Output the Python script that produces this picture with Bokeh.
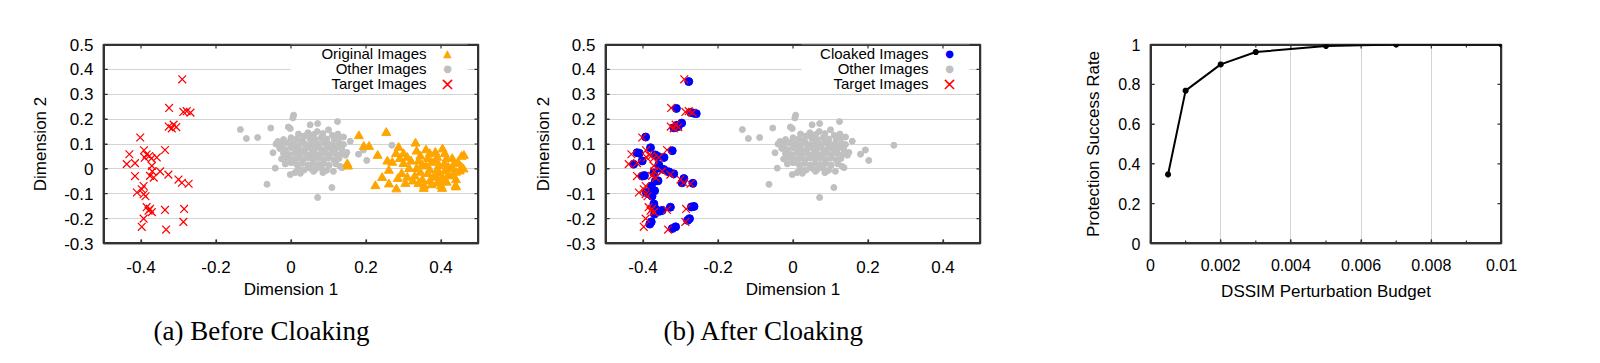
from bokeh.plotting import figure
from bokeh.layouts import row
from bokeh.models import (FixedTicker, CustomJSTickFormatter, Label,
                          BoxAnnotation, Title, Range1d)
from bokeh.embed import file_html
from bokeh.resources import INLINE

# ---------------- data ----------------
# Target images (shared by both panels)
target_x = [-0.290, -0.325, -0.287, -0.278, -0.268, -0.326, -0.313, -0.306, -0.318,
            -0.402, -0.431, -0.392, -0.385, -0.378, -0.390, -0.372, -0.336, -0.358,
            -0.438, -0.416, -0.371, -0.416, -0.370, -0.376, -0.366, -0.349, -0.327,
            -0.300, -0.291, -0.273, -0.393, -0.398, -0.411, -0.393, -0.388, -0.385,
            -0.376, -0.371, -0.380, -0.336, -0.285, -0.393, -0.398, -0.287, -0.333]
target_y = [0.360, 0.245, 0.229, 0.232, 0.226, 0.170, 0.178, 0.168, 0.163,
            0.126, 0.059, 0.075, 0.058, 0.052, 0.045, 0.042, 0.076, 0.046,
            0.019, 0.023, 0.012, -0.029, -0.010, -0.028, -0.035, -0.010, -0.023,
            -0.043, -0.056, -0.060, -0.069, -0.082, -0.095, -0.102, -0.110, -0.154,
            -0.161, -0.174, -0.168, -0.165, -0.161, -0.200, -0.233, -0.213, -0.244]

# Other images (shared)
other_x = [0.007, 0.005, -0.135, -0.119, -0.089, -0.054, 0.051, 0.071, 0.124, 0.100,
           -0.007, -0.002, -0.048, -0.042, -0.064, 0.109, 0.071, 0.113, 0.131, 0.136,
           0.180, 0.193, 0.202, 0.269, 0.158, 0.140, 0.149, -0.002, 0.011, 0.060,
           0.020, 0.045, 0.060, 0.085, 0.110, 0.125, 0.035, 0.070,
           -0.020, 0.000, 0.015, 0.030, 0.050, 0.065, 0.080, 0.095, 0.115, 0.130, -0.035,
           -0.040, -0.025, -0.010, 0.005, 0.020, 0.035, 0.048, 0.060, 0.075, 0.088, 0.100,
           0.112, 0.128, 0.140,
           -0.030, -0.015, 0.000, 0.012, 0.025, 0.040, 0.055, 0.068, 0.082, 0.095, 0.108,
           0.120, 0.135,
           -0.020, -0.005, 0.010, 0.022, 0.037, 0.050, 0.063, 0.077, 0.090, 0.103, 0.118,
           0.132, 0.145,
           -0.025, -0.010, 0.005, 0.018, 0.032, 0.046, 0.058, 0.072, 0.086, 0.100, 0.115,
           0.128,
           -0.015, 0.000, 0.015, 0.030, 0.045, 0.060, 0.074, 0.088, 0.102, 0.120,
           0.020, 0.035, 0.050, 0.065, 0.080, 0.095, 0.025, 0.085]
other_y = [0.216, 0.205, 0.158, 0.122, 0.126, 0.164, 0.177, 0.182, 0.190, 0.157,
           0.168, 0.162, 0.065, 0.003, -0.062, -0.075, -0.115, -0.010, 0.010, 0.005,
           0.059, 0.076, 0.034, 0.095, 0.111, 0.128, 0.066, -0.023, -0.015, -0.010,
           0.140, 0.145, 0.138, 0.142, 0.135, 0.140, 0.132, 0.150,
           0.118, 0.125, 0.120, 0.115, 0.122, 0.118, 0.125, 0.120, 0.118, 0.125, 0.110,
           0.100, 0.098, 0.105, 0.100, 0.095, 0.102, 0.097, 0.104, 0.098, 0.105, 0.100,
           0.095, 0.102, 0.098,
           0.082, 0.078, 0.085, 0.080, 0.076, 0.083, 0.079, 0.085, 0.077, 0.083, 0.078,
           0.084, 0.079,
           0.062, 0.058, 0.064, 0.057, 0.063, 0.056, 0.062, 0.058, 0.064, 0.057, 0.062,
           0.058, 0.055,
           0.040, 0.045, 0.038, 0.043, 0.037, 0.044, 0.039, 0.045, 0.038, 0.043, 0.036,
           0.042,
           0.020, 0.025, 0.018, 0.022, 0.016, 0.023, 0.018, 0.022, 0.015, 0.020,
           0.000, -0.005, 0.003, -0.002, 0.004, -0.006, -0.018, -0.015]

# Original images (panel a)
orig_x = [0.181, 0.254, 0.194, 0.208, 0.231, 0.257, 0.150, 0.152, 0.261, 0.243, 0.225,
          0.261, 0.281, 0.287, 0.332, 0.461, 0.439, 0.403, 0.354, 0.404, 0.455, 0.440,
          0.300, 0.310, 0.320, 0.300, 0.315, 0.295, 0.310, 0.325, 0.305,
          0.335, 0.345, 0.340, 0.350, 0.335, 0.345, 0.330, 0.350, 0.340, 0.355,
          0.360, 0.370, 0.365, 0.375, 0.360, 0.370, 0.365, 0.380, 0.370, 0.375,
          0.385, 0.390, 0.385, 0.395, 0.390, 0.395, 0.385, 0.400, 0.390, 0.400,
          0.410, 0.415, 0.410, 0.420, 0.410, 0.420, 0.405, 0.415,
          0.430, 0.435, 0.430, 0.440, 0.430, 0.440, 0.445, 0.455, 0.450, 0.460,
          0.280, 0.290, 0.285, 0.270]
orig_y = [0.132, 0.145, 0.089, 0.089, 0.053, 0.030, 0.019, 0.010, -0.007, -0.036, -0.069,
          -0.062, -0.082, 0.085, 0.102, 0.053, -0.069, -0.080, -0.080, 0.079, 0.049, -0.074,
          0.060, 0.045, 0.030, 0.020, 0.000, -0.020, -0.035, -0.050, -0.060,
          0.070, 0.050, 0.030, 0.015, 0.000, -0.015, -0.030, -0.045, -0.060, -0.070,
          0.075, 0.060, 0.040, 0.025, 0.010, -0.005, -0.020, -0.035, -0.050, -0.065,
          0.065, 0.045, 0.030, 0.012, -0.003, -0.018, -0.030, -0.045, -0.058, -0.070,
          0.060, 0.040, 0.020, 0.005, -0.010, -0.025, -0.040, -0.055,
          0.040, 0.020, 0.000, -0.015, -0.030, -0.045, 0.025, 0.005, -0.010, -0.002,
          0.060, 0.040, -0.040, 0.025]

# Cloaked images (panel b)
cloak_x = [-0.278, -0.311, -0.273, -0.265, -0.258, -0.297, -0.306, -0.318, -0.310,
           -0.393, -0.380, -0.322, -0.416, -0.410, -0.367, -0.360, -0.344, -0.402,
           -0.425, -0.358, -0.355, -0.344, -0.331, -0.318, -0.402, -0.396, -0.371,
           -0.367, -0.360, -0.291, -0.296, -0.267, -0.378, -0.369, -0.382, -0.391,
           -0.376, -0.371, -0.367, -0.349, -0.327, -0.369, -0.355, -0.264, -0.271,
           -0.276, -0.281, -0.313, -0.322, -0.378, -0.382]
cloak_y = [0.351, 0.243, 0.227, 0.224, 0.222, 0.184, 0.170, 0.165, 0.175,
           0.128, 0.085, 0.073, 0.065, 0.063, 0.056, 0.050, 0.046, 0.032,
           0.019, 0.016, 0.003, -0.003, -0.012, -0.020, -0.029, -0.027, -0.016,
           -0.049, -0.048, -0.039, -0.056, -0.058, -0.069, -0.088, -0.102, -0.095,
           -0.110, -0.141, -0.161, -0.167, -0.154, -0.181, -0.170, -0.151, -0.153,
           -0.200, -0.207, -0.233, -0.240, -0.213, -0.222]

# Panel c
budget = [0.0005, 0.001, 0.002, 0.003, 0.005, 0.007, 0.01]
success = [0.347, 0.768, 0.900, 0.962, 0.993, 1.000, 1.000]

scatter_xticks = [-0.4, -0.2, 0, 0.2, 0.4]
scatter_yticks = [-0.3, -0.2, -0.1, 0, 0.1, 0.2, 0.3, 0.4, 0.5]
c_xticks = [0, 0.002, 0.004, 0.006, 0.008, 0.01]
c_minor_xticks = [0.001, 0.003, 0.005, 0.007, 0.009]
c_yticks = [0, 0.2, 0.4, 0.6, 0.8, 1]

SANS = "Liberation Sans"
SERIF = "Liberation Serif"
fmt_code = "return (Math.round(tick*1e6)/1e6).toString();"
GRID = "#a8a8a8"
FRAME = "#333333"


def style(p, xt, yt, xlabel, ylabel, tick_size, hgrid=True, vgrid=False, ylab_standoff=9):
    p.outline_line_color = FRAME
    p.outline_line_width = 1.5
    p.background_fill_color = "white"
    p.border_fill_color = "white"
    for ax, ticks in ((p.xaxis[0], xt), (p.yaxis[0], yt)):
        ax.ticker = FixedTicker(ticks=ticks)
        ax.formatter = CustomJSTickFormatter(code=fmt_code)
        ax.major_label_text_font = SANS
        ax.major_label_text_font_size = tick_size
        ax.major_label_text_color = "black"
        ax.axis_label_text_font = SANS
        ax.axis_label_text_font_size = "17px"
        ax.axis_label_text_font_style = "normal"
        ax.axis_label_text_color = "black"
        ax.major_tick_in = 4
        ax.major_tick_out = 0
        ax.minor_tick_line_color = None
        ax.axis_line_color = FRAME
        ax.axis_line_width = 1.5
        ax.major_tick_line_color = FRAME
        ax.major_tick_line_width = 1.2
    p.xaxis[0].axis_label = xlabel
    p.yaxis[0].axis_label = ylabel
    p.xaxis[0].major_label_standoff = 17
    p.yaxis[0].major_label_standoff = 10
    p.xaxis[0].axis_label_standoff = 4
    p.yaxis[0].axis_label_standoff = ylab_standoff
    p.xgrid.visible = vgrid
    p.ygrid.visible = hgrid
    p.xgrid[0].ticker = FixedTicker(ticks=xt)
    p.ygrid[0].ticker = FixedTicker(ticks=yt)
    for g in (p.xgrid[0], p.ygrid[0]):
        g.grid_line_color = GRID
        g.grid_line_dash = "1 1"
        g.grid_line_width = 1
    # frame border drawn as a glyph spanning the full ranges
    xr, yr = p.x_range, p.y_range
    p.quad(left=[xr.start], right=[xr.end], bottom=[yr.start], top=[yr.end],
           fill_alpha=0.0, line_color=FRAME, line_width=3)


def inward_ticks(p, xt, yt, fw, fh, length=4):
    """Mirrored inward ticks on all four sides of the frame."""
    xr, yr = p.x_range, p.y_range
    dy = length * (yr.end - yr.start) / fh
    dx = length * (xr.end - xr.start) / fw
    if xt:
        n = len(xt)
        p.segment(x0=list(xt) * 2, x1=list(xt) * 2,
                  y0=[yr.start] * n + [yr.end] * n,
                  y1=[yr.start + dy] * n + [yr.end - dy] * n,
                  line_color=FRAME, line_width=1.2)
    if yt:
        m = len(yt)
        p.segment(y0=list(yt) * 2, y1=list(yt) * 2,
                  x0=[xr.start] * m + [xr.end] * m,
                  x1=[xr.start + dx] * m + [xr.end - dx] * m,
                  line_color=FRAME, line_width=1.2)


def legend(p, fw, fh, entries, box_left):
    p.add_layout(BoxAnnotation(left=box_left, right=fw - 11, top=fh - 2, bottom=fh - 52,
                               left_units="screen", right_units="screen",
                               top_units="screen", bottom_units="screen",
                               fill_color="white", fill_alpha=1.0, line_color=None,
                               level="underlay"))
    for i, (label, sym, col, sz) in enumerate(entries):
        yy = fh - 13 - 15 * i
        p.add_layout(Label(x=fw - 52, y=yy, x_units="screen", y_units="screen",
                           text=label, text_align="right", text_baseline="middle",
                           text_font=SANS, text_font_size="15px", text_color="black"))
        p.add_layout(Label(x=fw - 31, y=yy, x_units="screen", y_units="screen",
                           text=sym, text_align="center", text_baseline="middle",
                           text_font="DejaVu Sans", text_font_size=sz, text_color=col))


def caption(p, text, offset):
    p.add_layout(Title(text=text, align="left", offset=offset,
                       text_font=SERIF, text_font_size="27px",
                       text_font_style="normal", text_color="black",
                       standoff=25), "below")


H = 363

# ---------------- panel a ----------------
FW, FH = 375, 203
pa = figure(width=505, height=H, x_range=Range1d(-0.5, 0.5), y_range=Range1d(-0.3, 0.5),
            output_backend="svg", toolbar_location=None,
            min_border_left=103, min_border_right=27, min_border_top=44, min_border_bottom=116)
style(pa, scatter_xticks, scatter_yticks, "Dimension 1", "Dimension 2", "17px",
      ylab_standoff=11)
inward_ticks(pa, scatter_xticks, scatter_yticks, FW, FH)
pa.scatter(other_x, other_y, marker="circle", size=6, fill_color="#c0c0c0",
           line_color="#c0c0c0")
pa.scatter(orig_x, orig_y, marker="triangle", size=9, fill_color="#ffa500",
           line_color="#ffa500")
pa.scatter(target_x, target_y, marker="x", size=11, line_color="#ff0000", line_width=1.2)
legend(pa, FW, FH, [("Original Images", "\u25B2", "#ffa500", "11px"),
                    ("Other Images", "\u25CF", "#c0c0c0", "10px"),
                    ("Target Images", "\u00D7", "#ff0000", "18px")], 187)
caption(pa, "(a) Before Cloaking", 50)

# ---------------- panel b ----------------
pb = figure(width=535, height=H, x_range=Range1d(-0.5, 0.5), y_range=Range1d(-0.3, 0.5),
            output_backend="svg", toolbar_location=None,
            min_border_left=100, min_border_right=60, min_border_top=44, min_border_bottom=116)
style(pb, scatter_xticks, scatter_yticks, "Dimension 1", "Dimension 2", "17px",
      ylab_standoff=10)
inward_ticks(pb, scatter_xticks, scatter_yticks, FW, FH)
pb.scatter(other_x, other_y, marker="circle", size=6, fill_color="#c0c0c0",
           line_color="#c0c0c0")
pb.scatter(cloak_x, cloak_y, marker="circle", size=8, fill_color="#0000ff",
           line_color="#0000ff")
pb.scatter(target_x, target_y, marker="x", size=11, line_color="#ff0000", line_width=1.2)
legend(pb, FW, FH, [("Cloaked Images", "\u25CF", "#0000ff", "10px"),
                    ("Other Images", "\u25CF", "#c0c0c0", "10px"),
                    ("Target Images", "\u00D7", "#ff0000", "18px")], 196)
caption(pb, "(b) After Cloaking", 58)

# ---------------- panel c ----------------
pc = figure(width=552, height=H, x_range=Range1d(0, 0.01), y_range=Range1d(0, 1),
            output_backend="svg", toolbar_location=None,
            min_border_left=110, min_border_right=91, min_border_top=41, min_border_bottom=120)
style(pc, c_xticks, c_yticks, "DSSIM Perturbation Budget", "Protection Success Rate",
      "16px", hgrid=False, vgrid=True, ylab_standoff=12)
pc.xaxis[0].major_label_standoff = 15
pc.xaxis[0].axis_label_standoff = 8
inward_ticks(pc, c_xticks, c_yticks, 351, 202)
inward_ticks(pc, c_minor_xticks, [], 351, 202, length=3)
pc.line(budget, success, line_color="black", line_width=2)
pc.scatter(budget, success, marker="asterisk", size=6, line_color="black", line_width=2)

layout = row(pa, pb, pc)
open("out.html", "w").write(file_html(layout, INLINE))
